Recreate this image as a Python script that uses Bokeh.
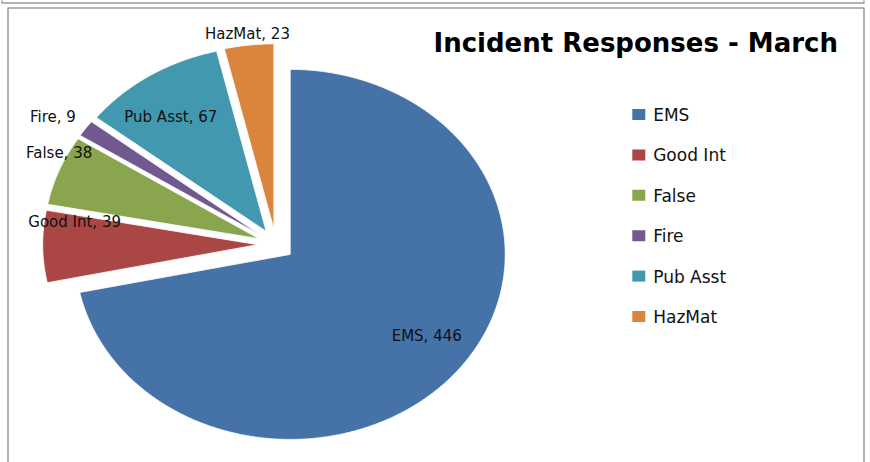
import numpy as np
from bokeh.plotting import figure
from bokeh.models import Range1d
from bokeh.core.properties import value
from bokeh.embed import file_html
from bokeh.resources import INLINE

# ---- data ----
categories = ["EMS", "Good Int", "False", "Fire", "Pub Asst", "HazMat"]
counts = [446, 39, 38, 9, 67, 23]
colors = ["#4572A7", "#AA4643", "#89A54E", "#71588F", "#4198AF", "#DB843D"]
title_text = "Incident Responses - March"

# ---- layout constants (page pixels) ----
W, H = 870, 462
X0, Y0 = 0, 0
CX, CY, RX, RY, EXPL = 275.5, 244.0, 215.0, 185.0, 0.085
label_r = [0.774, 0.86, 1.04, 1.16, 0.76, 1.06]
label_shift = [4.2, -8.6, -4.9, 1.9, 3.0, 0.0]
FONT = "DejaVu Sans"

p = figure(width=W, height=H, output_backend="svg", toolbar_location=None,
           x_range=Range1d(X0, X0 + W), y_range=Range1d(Y0 + H, Y0),
           x_axis_location=None, y_axis_location=None, min_border=0,
           background_fill_color="white", border_fill_color="white")
p.grid.visible = False
p.outline_line_color = None

# chart frame borders (decoration)
p.multi_line(xs=[[7.5, 7.5, 863.5, 863.5], [1.5, 1.5, 863.5, 863.5]],
             ys=[[470, 7.5, 7.5, 470], [-2, 2.5, 2.5, -2]],
             line_color="#9a9a9a", line_width=1.5)

total = float(sum(counts))
start = 90.0
pxs, pys, lx, ly, labels = [], [], [], [], []
for i, (cat, n) in enumerate(zip(categories, counts)):
    sweep = 360.0 * n / total
    a0, a1 = start, start - sweep
    mid = np.radians((a0 + a1) / 2.0)
    ox = CX + EXPL * RX * np.cos(mid)
    oy = CY - EXPL * RY * np.sin(mid)
    t = np.radians(np.linspace(a0, a1, max(int(sweep * 3), 6)))
    pxs.append(list(np.concatenate([[ox], ox + RX * np.cos(t)])))
    pys.append(list(np.concatenate([[oy], oy - RY * np.sin(t)])))
    la = mid + np.radians(label_shift[i])
    lx.append(ox + label_r[i] * RX * np.cos(la))
    ly.append(oy - label_r[i] * RY * np.sin(la))
    labels.append(f"{cat}, {n}")
    start = a1

p.patches(xs=pxs, ys=pys, fill_color=colors, line_color="white", line_width=0.8)

p.text(x=lx, y=ly, text=labels, text_font=value(FONT), text_font_size="15px",
       text_align="center", text_baseline="middle", text_color="#111111")

# title
p.text(x=[433], y=[42.5], text=[title_text], text_font=value(FONT),
       text_font_size="26px", text_font_style="bold", text_align="left",
       text_baseline="middle", text_color="#000000")

# legend
LEG_X, LEG_Y, LEG_STEP = 638.3, 114.0, 40.4
leg_y = [LEG_Y + i * LEG_STEP for i in range(len(categories))]
p.rect(x=[LEG_X] * len(categories), y=leg_y, width=13, height=11,
       fill_color=colors, line_color=None)
p.text(x=[652.7] * len(categories), y=[v + 0.5 for v in leg_y], text=categories,
       text_font=value(FONT), text_font_size="17px", text_align="left",
       text_baseline="middle", text_color="#111111")

open("out.html", "w").write(file_html(p, INLINE))
